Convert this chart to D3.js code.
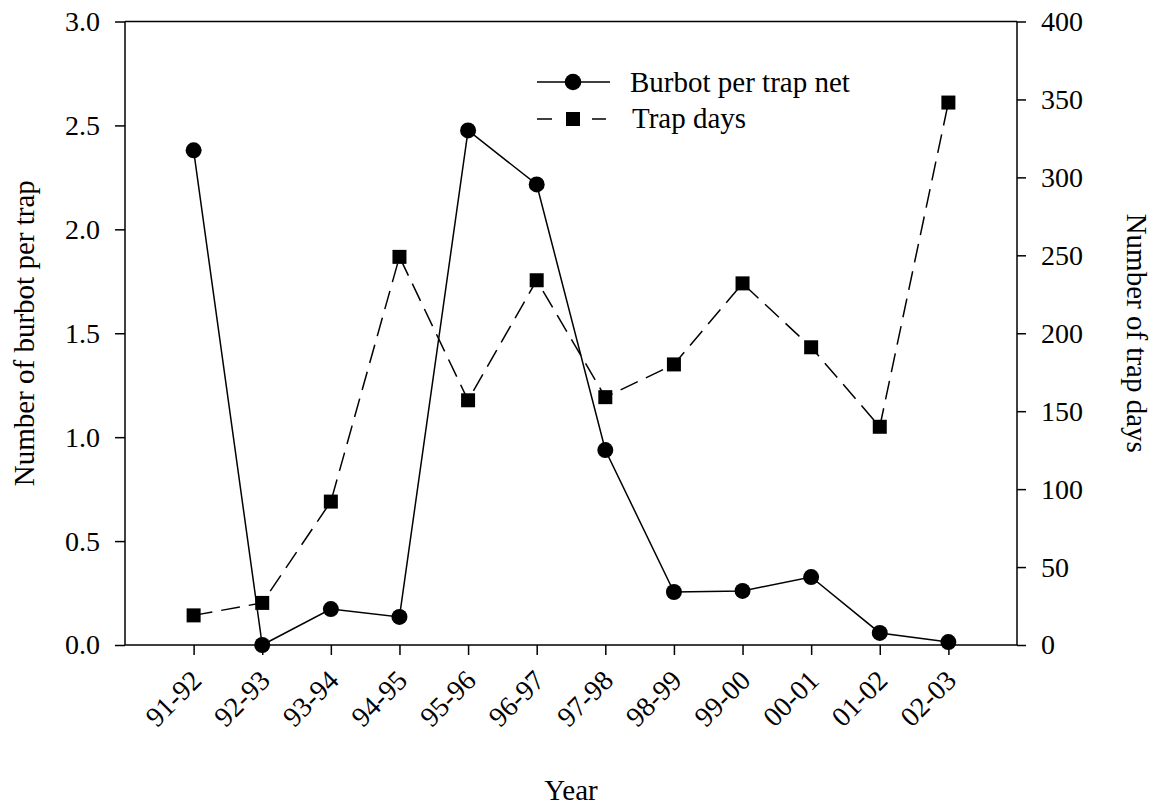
<!DOCTYPE html>
<html lang="en">
<head>
<meta charset="UTF-8">
<title>Burbot per trap net</title>
<script src="https://d3js.org/d3.v7.min.js"></script>
<style>
  body { margin: 0; background: #fff; }
  text { font-family: "Liberation Serif", "Times New Roman", serif; fill: #000; }
</style>
</head>
<body>
<div id="chart"></div>
<script>
// data
var years = ["91-92","92-93","93-94","94-95","95-96","96-97","97-98","98-99","99-00","00-01","01-02","02-03"]
var burbot = [2.38, 0.0, 0.173, 0.135, 2.476, 2.216, 0.938, 0.255, 0.26, 0.327, 0.058, 0.014]
var trapDays = [19, 27, 92, 249, 157, 234, 159, 180, 232, 191, 140, 348]
var leftTicks = [0, 0.5, 1.0, 1.5, 2.0, 2.5, 3.0]
var rightTicks = [0, 50, 100, 150, 200, 250, 300, 350, 400]

var width = 1158, height = 808
var plotL = 125, plotR = 1017, plotT = 21.5, plotB = 645

var svg = d3.select("#chart").append("svg")
  .attr("width", width)
  .attr("height", height)

// categories sit on an index scale with one empty slot each side
var x = d3.scaleLinear().domain([-1, 12]).range([plotL, plotR])
var y = d3.scaleLinear().domain([0, 3]).range([plotB, plotT])
var y2 = d3.scaleLinear().domain([0, 400]).range([plotB, plotT])

// top frame line
svg.append("line")
  .attr("x1", plotL).attr("x2", plotR).attr("y1", plotT).attr("y2", plotT)
  .attr("stroke", "#000").attr("stroke-width", 1.5)

// axes
var gl = svg.append("g").attr("transform", "translate(" + plotL + ",0)")
  .call(d3.axisLeft(y).tickValues(leftTicks).tickFormat(d3.format(".1f")).tickSize(10).tickPadding(15))
var gr = svg.append("g").attr("transform", "translate(" + plotR + ",0)")
  .call(d3.axisRight(y2).tickValues(rightTicks).tickSize(9).tickPadding(15))
var gb = svg.append("g").attr("transform", "translate(0," + plotB + ")")
  .call(d3.axisBottom(x).tickValues(d3.range(years.length)).tickFormat(function(i){ return years[i] }).tickSize(10))

svg.selectAll(".domain").attr("stroke-width", 1.5)
gb.select(".domain").attr("d", "M" + plotL + ",0H" + plotR)
gl.select(".domain").attr("d", "M0," + plotB + "V" + plotT)
gr.select(".domain").attr("d", "M0," + plotB + "V" + plotT)
svg.selectAll(".tick line").attr("stroke-width", 1.5)
svg.selectAll(".tick text").style("font-size", "28px").style("font-family", "Liberation Serif, serif")

gb.selectAll(".tick text")
  .attr("text-anchor", "end")
  .attr("x", 0).attr("y", 0).attr("dy", 0)
  .attr("transform", "translate(9,37) rotate(-45)")

// burbot line (solid, circles)
var line1 = d3.line().x(function(d, i){ return x(i) }).y(function(d){ return y(d) })
svg.append("path").datum(burbot)
  .attr("d", line1).attr("fill", "none").attr("stroke", "#000").attr("stroke-width", 1.5)

// trap days line (dashed, squares)
var line2 = d3.line().x(function(d, i){ return x(i) }).y(function(d){ return y2(d) })
svg.append("path").datum(trapDays)
  .attr("d", line2).attr("fill", "none").attr("stroke", "#000").attr("stroke-width", 1.5)
  .attr("stroke-dasharray", "19,9")

svg.selectAll("rect.td").data(trapDays).enter().append("rect")
  .attr("class", "td")
  .attr("x", function(d, i){ return x(i) - 7 })
  .attr("y", function(d){ return y2(d) - 7 })
  .attr("width", 14).attr("height", 14)
  .attr("fill", "#000")

svg.selectAll("circle.bb").data(burbot).enter().append("circle")
  .attr("class", "bb")
  .attr("cx", function(d, i){ return x(i) })
  .attr("cy", function(d){ return y(d) })
  .attr("r", 8)
  .attr("fill", "#000")

// legend
var lg = svg.append("g")
lg.append("line").attr("x1", 537).attr("x2", 610).attr("y1", 82).attr("y2", 82)
  .attr("stroke", "#000").attr("stroke-width", 1.5)
lg.append("circle").attr("cx", 573).attr("cy", 82).attr("r", 8.3).attr("fill", "#000")
lg.append("text").attr("x", 630).attr("y", 92)
  .style("font-size", "29px").text("Burbot per trap net")
lg.append("line").attr("x1", 537).attr("x2", 606).attr("y1", 119).attr("y2", 119)
  .attr("stroke", "#000").attr("stroke-width", 1.5).attr("stroke-dasharray", "15,40,14")
lg.append("rect").attr("x", 566).attr("y", 112).attr("width", 14).attr("height", 14).attr("fill", "#000")
lg.append("text").attr("x", 632).attr("y", 128)
  .style("font-size", "29px").text("Trap days")

// axis titles
svg.append("text")
  .attr("transform", "translate(24," + ((plotT + plotB) / 2) + ") rotate(-90)")
  .attr("text-anchor", "middle").attr("dy", "0.35em")
  .style("font-size", "29px").text("Number of burbot per trap")
svg.append("text")
  .attr("transform", "translate(1137," + ((plotT + plotB) / 2) + ") rotate(90)")
  .attr("text-anchor", "middle").attr("dy", "0.35em")
  .style("font-size", "29px").text("Number of trap days")
svg.append("text")
  .attr("x", (plotL + plotR) / 2).attr("y", 800)
  .attr("text-anchor", "middle")
  .style("font-size", "29px").text("Year")
</script>
</body>
</html>
